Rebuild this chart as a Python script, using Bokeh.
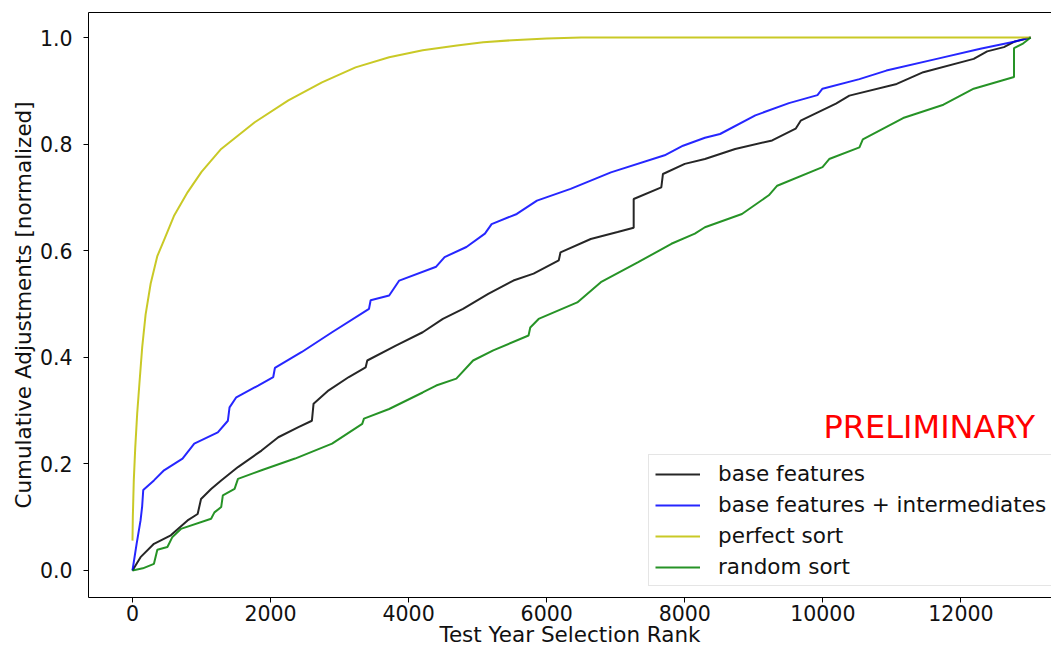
from bokeh.plotting import figure
from bokeh.models import Range1d, LinearAxis, Legend, LegendItem, Label, FixedTicker, CustomJSTickFormatter
from bokeh.embed import file_html
from bokeh.resources import INLINE

# ---- data ----
base_x = [0, 117, 311, 555, 798, 944, 993, 1139, 1285, 1528, 1869, 2112, 2404, 2599, 2623,
          2842, 3134, 3377, 3401, 3815, 4204, 4496, 4788, 5153, 5518, 5810, 6175, 6200, 6638,
          7027, 7260, 7260, 7660, 7684, 8000, 8292, 8730, 9266, 9606, 9679, 10190, 10384,
          11070, 11455, 12185, 12380, 12623, 12769, 13010]
base_y = [0.0, 0.025, 0.050, 0.066, 0.094, 0.106, 0.134, 0.153, 0.169, 0.194, 0.225, 0.250,
          0.269, 0.281, 0.313, 0.338, 0.363, 0.381, 0.394, 0.422, 0.447, 0.472, 0.491, 0.519,
          0.544, 0.557, 0.582, 0.597, 0.622, 0.635, 0.643, 0.697, 0.719, 0.744, 0.763, 0.772,
          0.791, 0.807, 0.829, 0.844, 0.876, 0.891, 0.913, 0.935, 0.960, 0.974, 0.982, 0.992, 1.0]

inter_x = [0, 60, 117, 140, 156, 311, 457, 725, 895, 1236, 1382, 1406, 1504, 1820, 2039, 2063,
           2453, 2891, 3426, 3450, 3718, 3864, 4399, 4521, 4837, 5105, 5202, 5567, 5859, 6346,
           6930, 7708, 7975, 8292, 8511, 9022, 9509, 9922, 9995, 10530, 10920, 11650, 12282,
           12769, 13010]
inter_y = [0.0, 0.05, 0.094, 0.12, 0.151, 0.169, 0.188, 0.21, 0.238, 0.259, 0.281, 0.306, 0.325,
           0.347, 0.363, 0.380, 0.41, 0.447, 0.491, 0.507, 0.516, 0.544, 0.570, 0.588, 0.607,
           0.632, 0.650, 0.669, 0.694, 0.716, 0.747, 0.779, 0.797, 0.812, 0.819, 0.854, 0.877,
           0.892, 0.904, 0.922, 0.938, 0.960, 0.979, 0.992, 1.0]

perfect_x = [0, 5, 19, 40, 68, 100, 141, 190, 263, 360, 457, 600, 800, 1000, 1285, 1771,
             2258, 2745, 3231, 3718, 4204, 4700, 5080, 5500, 6000, 6500, 13010]
perfect_y = [0.056, 0.10, 0.169, 0.23, 0.294, 0.35, 0.419, 0.48, 0.538, 0.59, 0.62, 0.665,
             0.71, 0.748, 0.791, 0.841, 0.882, 0.916, 0.944, 0.963, 0.976, 0.985, 0.991, 0.995,
             0.998, 1.0, 1.0]

random_x = [0, 150, 311, 360, 506, 579, 701, 1139, 1187, 1285, 1309, 1479, 1528, 1869, 2355,
            2891, 3328, 3353, 3718, 4204, 4399, 4691, 4934, 5226, 5737, 5762, 5883, 6443, 6784,
            7319, 7806, 8146, 8292, 8828, 9217, 9339, 9995, 10092, 10530, 10579, 11163, 11747,
            12185, 12769, 12769, 12891, 13010]
random_y = [0.0, 0.004, 0.0125, 0.039, 0.044, 0.063, 0.078, 0.097, 0.109, 0.119, 0.141, 0.153,
            0.172, 0.188, 0.21, 0.238, 0.275, 0.285, 0.303, 0.334, 0.347, 0.360, 0.394, 0.413,
            0.441, 0.456, 0.472, 0.503, 0.541, 0.578, 0.613, 0.632, 0.644, 0.669, 0.704, 0.722,
            0.757, 0.772, 0.794, 0.809, 0.849, 0.874, 0.904, 0.926, 0.980, 0.988, 1.0]

x_ticks = [0, 2000, 4000, 6000, 8000, 10000, 12000]
y_ticks = [0.0, 0.2, 0.4, 0.6, 0.8, 1.0]

series_names = ["base features", "base features + intermediates", "perfect sort", "random sort"]
x_title = "Test Year Selection Rank"
y_title = "Cumulative Adjustments [normalized]"

FONT = "DejaVu Sans"

p = figure(width=1051, height=649, output_backend="svg", toolbar_location=None,
           x_range=Range1d(-637, 13312), y_range=Range1d(-0.0507, 1.047),
           min_border_left=88, min_border_right=0, min_border_top=12, min_border_bottom=52)
p.outline_line_color = None
p.xgrid.visible = False
p.ygrid.visible = False
p.background_fill_color = "white"
p.border_fill_color = "white"

for ax in (p.xaxis[0], p.yaxis[0]):
    ax.axis_line_color = "black"
    ax.axis_line_width = 1
    ax.major_tick_line_color = "black"
    ax.major_tick_out = 5
    ax.major_tick_in = 0
    ax.minor_tick_line_color = None
    ax.major_label_text_font = FONT
    ax.major_label_text_font_size = "20.5px"
    ax.major_label_text_color = "#111111"
    ax.axis_label_text_font = FONT
    ax.axis_label_text_font_size = "21.5px"
    ax.axis_label_text_font_style = "normal"
    ax.axis_label_text_color = "#111111"

p.xaxis[0].ticker = FixedTicker(ticks=x_ticks)
p.yaxis[0].ticker = FixedTicker(ticks=y_ticks)
p.yaxis[0].formatter = CustomJSTickFormatter(code="return tick.toFixed(1);")
p.yaxis[0].axis_label = y_title
p.xaxis[0].axis_label = x_title
p.xaxis[0].major_label_standoff = 2
p.xaxis[0].axis_label_standoff = -2
p.yaxis[0].major_label_standoff = 11
p.yaxis[0].axis_label_standoff = 1

top = LinearAxis(axis_line_color="black", major_tick_line_color=None, minor_tick_line_color=None,
                 major_label_text_font_size="0px", ticker=FixedTicker(ticks=[]))
p.add_layout(top, "above")

r_base = p.line(base_x, base_y, line_color="black", line_width=2, line_alpha=0.85)
r_inter = p.line(inter_x, inter_y, line_color="blue", line_width=2, line_alpha=0.85)
r_perf = p.line(perfect_x, perfect_y, line_color="#bfbf00", line_width=2, line_alpha=0.85)
r_rand = p.line(random_x, random_y, line_color="green", line_width=2, line_alpha=0.85)

legend = Legend(items=[LegendItem(label=series_names[0], renderers=[r_base]),
                       LegendItem(label=series_names[1], renderers=[r_inter]),
                       LegendItem(label=series_names[2], renderers=[r_perf]),
                       LegendItem(label=series_names[3], renderers=[r_rand])],
                location=(560, 11), orientation="vertical")
legend.label_text_font = FONT
legend.label_text_font_size = "21.5px"
legend.label_text_color = "#111111"
legend.glyph_width = 45
legend.glyph_height = 20
legend.label_height = 20
legend.label_standoff = 18
legend.padding = 6
legend.spacing = 6
legend.margin = 0
legend.border_line_color = "#cccccc"
legend.border_line_width = 1
legend.background_fill_color = "white"
legend.background_fill_alpha = 0.8
p.add_layout(legend, "center")

prelim = Label(x=10010, y=0.2683, text="PRELIMINARY", text_color="red",
               text_font=FONT, text_font_size="32px", text_baseline="alphabetic",
               text_align="left")
p.add_layout(prelim)

open("out.html", "w").write(file_html(p, INLINE))
